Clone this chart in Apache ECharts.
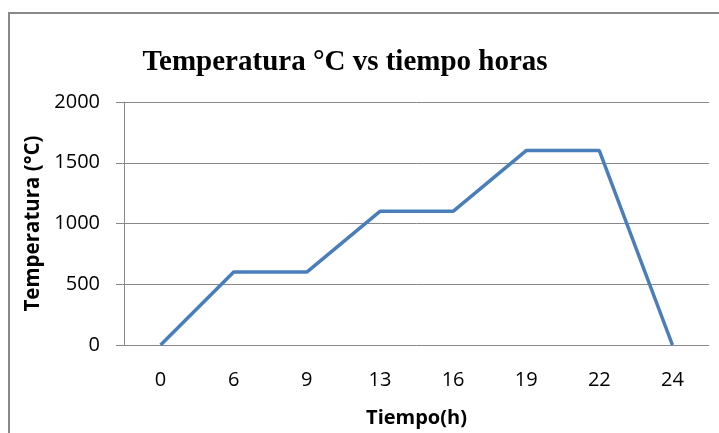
<!DOCTYPE html>
<html><head><meta charset="utf-8">
<script src="https://cdn.jsdelivr.net/npm/echarts@6/dist/echarts.min.js"></script>
<style>html,body{margin:0;padding:0;background:#fff}#c{width:719px;height:433px}</style>
</head><body><div id="c"></div>
<script>
const categories = ['0','6','9','13','16','19','22','24'];
const temperatures = [0,600,600,1100,1100,1600,1600,0];
const yTicks = [0,500,1000,1500,2000];

const chart = echarts.init(document.getElementById('c'), null, {renderer:'canvas'});
chart.setOption({
  animation:false,
  backgroundColor:'#fff',
  graphic:[{type:'rect',shape:{x:9,y:13,width:760,height:460},style:{fill:'none',stroke:'#888',lineWidth:2}}],
  title:{text:'Temperatura °C vs tiempo horas',left:340,top:43,textAlign:'center',
    textStyle:{fontFamily:'Liberation Serif',fontWeight:'bold',fontSize:29,color:'#000'}},
  grid:{left:124,right:10,top:102,bottom:85},
  xAxis:{type:'category',data:categories,boundaryGap:true,
    name:'Tiempo(h)',nameLocation:'middle',nameGap:63,
    nameTextStyle:{fontFamily:'Open Sans',fontWeight:'bold',fontSize:20,color:'#000'},
    axisLine:{show:false},axisTick:{show:false},
    axisLabel:{fontFamily:'Open Sans',fontSize:20,color:'#000',margin:25}},
  yAxis:{type:'value',min:yTicks[0],max:yTicks[yTicks.length-1],interval:500,
    name:'Temperatura (°C)',nameLocation:'middle',nameGap:80,
    nameTextStyle:{fontFamily:'Open Sans',fontWeight:'bold',fontSize:20.5,color:'#000'},
    axisLine:{show:true,lineStyle:{color:'#888'}},
    axisTick:{show:true,length:8,lineStyle:{color:'#888'}},
    splitLine:{lineStyle:{color:'#888'}},
    axisLabel:{fontFamily:'Open Sans',fontSize:20,color:'#000',margin:24,formatter:function(v){return String(v);}}},
  series:[{type:'line',data:temperatures,symbol:'none',
    lineStyle:{color:'#4a7ebb',width:3.5}}]
});
</script></body></html>
